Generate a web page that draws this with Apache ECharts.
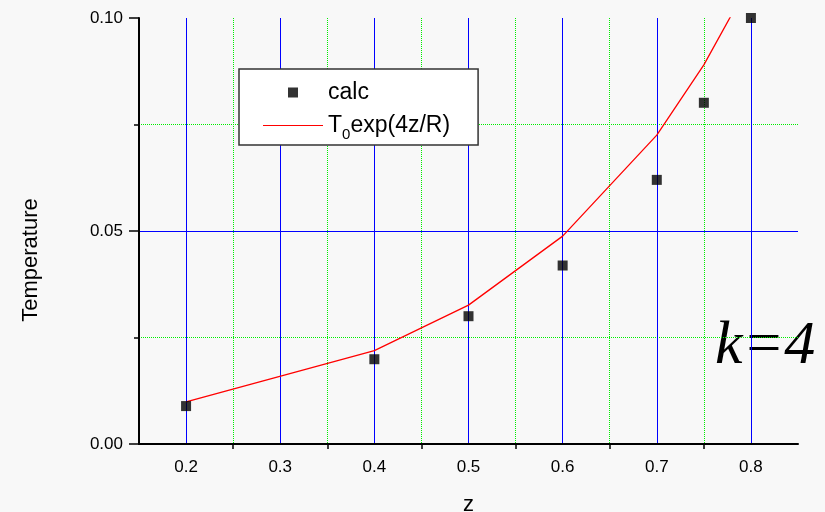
<!DOCTYPE html>
<html>
<head>
<meta charset="utf-8">
<script src="https://cdn.jsdelivr.net/npm/echarts@6/dist/echarts.min.js"></script>
<style>html,body{margin:0;padding:0;background:#f8f8f8;}#c{width:825px;height:512px;}</style>
</head>
<body>
<div id="c"></div>
<script>
// ---- data ----
const calcZ    = [0.2, 0.4, 0.5, 0.6, 0.7, 0.75, 0.8];
const calcT    = [0.0089, 0.0199, 0.0300, 0.0419, 0.0620, 0.0801, 0.1000];
const fitZ     = [0.2, 0.4, 0.5, 0.6, 0.7, 0.75, 0.8];
const fitT     = [0.0099, 0.0219, 0.0326, 0.0488, 0.0725, 0.0890, 0.1090];
const calcName = 'calc';
const fitName  = 'T0exp(4z/R)';
const xTitle   = 'z';
const yTitle   = 'Temperature';
const note     = 'k=4';

const FONT = 'Liberation Sans, Arial, sans-serif';
const chart = echarts.init(document.getElementById('c'));
chart.setOption({
  backgroundColor: '#f8f8f8',
  animation: false,
  grid: { left: 139, right: 27, top: 18, bottom: 68, containLabel: false, outerBoundsMode: 'none' },
  xAxis: {
    type: 'value', min: 0.15, max: 0.85, splitNumber: 7,
    name: xTitle, nameLocation: 'middle', nameGap: 50,
    nameTextStyle: { fontFamily: FONT, fontSize: 22, color: '#000' },
    axisLine: { show: true, onZero: false, lineStyle: { color: '#000', width: 2 } },
    axisTick: { show: false },
    minorTick: { show: true, splitNumber: 2, length: 5, lineStyle: { color: '#000', width: 1.5 } },
    axisLabel: { fontFamily: FONT, fontSize: 17, color: '#000', margin: 15,
      showMinLabel: false, showMaxLabel: false, formatter: v => v.toFixed(1) },
    splitLine: { show: true, showMinLine: false, showMaxLine: false, lineStyle: { color: '#0000ff', width: 1 } },
    minorSplitLine: { show: true, lineStyle: { color: '#00ee00', width: 1, type: [1, 1] } }
  },
  yAxis: {
    type: 'value', min: 0, max: 0.1, interval: 0.05,
    name: yTitle, nameLocation: 'middle', nameGap: 97, nameRotate: 90,
    nameTextStyle: { fontFamily: FONT, fontSize: 22, color: '#000', padding: [0, 58, 0, 0] },
    axisLine: { show: true, lineStyle: { color: '#000', width: 2 } },
    axisTick: { show: true, length: 10, lineStyle: { color: '#000', width: 1.5 } },
    minorTick: { show: true, splitNumber: 2, length: 5, lineStyle: { color: '#000', width: 1.5 } },
    axisLabel: { fontFamily: FONT, fontSize: 17, color: '#000', margin: 16, formatter: v => v.toFixed(2) },
    splitLine: { show: true, showMinLine: false, showMaxLine: false, lineStyle: { color: '#0000ff', width: 1 } },
    minorSplitLine: { show: true, lineStyle: { color: '#00ee00', width: 1, type: [1, 1] } }
  },
  legend: {
    orient: 'vertical', left: 239, top: 69,
    padding: [12, 28, 3, 24], itemWidth: 60, itemHeight: 12, itemGap: 10,
    backgroundColor: '#ffffff', borderColor: '#333', borderWidth: 1.5, borderRadius: 0,
    textStyle: {
      fontFamily: FONT, fontSize: 23, color: '#000',
      rich: {
        a: { fontFamily: FONT, fontSize: 23, color: '#000' },
        s: { fontFamily: FONT, fontSize: 15, color: '#000', padding: [18, 0, 0, 0] }
      }
    },
    formatter: function (n) { return n === fitName ? '{a|T}{s|0}{a|exp(4z/R)}' : n; },
    data: [
      { name: calcName, icon: 'path://M0,0M60,12M25,1h10v10h-10z' },
      { name: fitName, icon: 'path://M0,5.5h60v1.2h-60z' }
    ]
  },
  graphic: [{
    type: 'text', left: 715, top: 316, silent: true,
    style: { text: note, font: 'italic 62px "Liberation Serif", "Times New Roman", serif', fill: '#000' }
  }],
  series: [
    {
      name: fitName, type: 'line', symbol: 'none', clip: true, z: 3,
      lineStyle: { color: '#ff0000', width: 1.3 }, itemStyle: { color: '#ff0000' },
      data: fitZ.map((z, i) => [z, fitT[i]])
    },
    {
      name: calcName, type: 'scatter', symbol: 'rect', symbolSize: 10, clip: false, z: 4,
      itemStyle: { color: '#000' },
      data: calcZ.map((z, i) => [z, calcT[i]])
    }
  ]
});
</script>
</body>
</html>
